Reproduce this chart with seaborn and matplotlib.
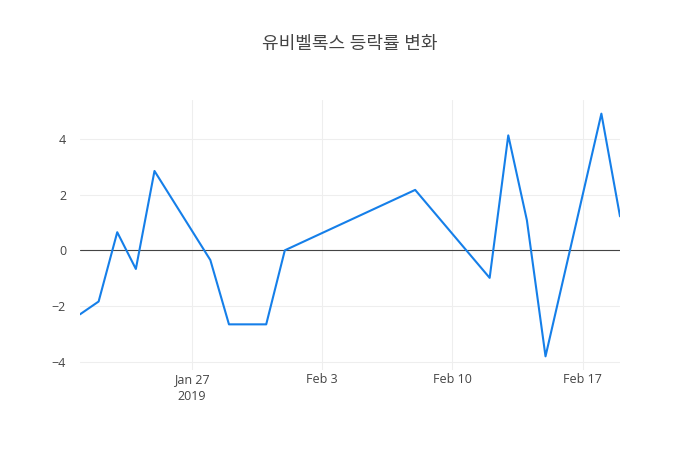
import matplotlib
matplotlib.use("Agg")
import matplotlib.pyplot as plt
import seaborn as sns
import pandas as pd

dates = ["2019-01-21", "2019-01-22", "2019-01-23", "2019-01-24", "2019-01-25",
         "2019-01-28", "2019-01-29", "2019-01-31", "2019-02-01", "2019-02-08",
         "2019-02-12", "2019-02-13", "2019-02-14", "2019-02-15", "2019-02-18",
         "2019-02-19"]
changes = [-2.30, -1.84, 0.65, -0.67, 2.85,
           -0.35, -2.66, -2.66, 0.0, 2.17,
           -0.99, 4.13, 1.08, -3.81, 4.91,
           1.22]
title = "유비벨록스 등락률 변화"

df = pd.DataFrame({"date": pd.to_datetime(dates), "change": changes})

sns.set_style("white")
plt.rcParams["font.family"] = ["Open Sans", "Noto Sans CJK KR", "DejaVu Sans"]
plt.rcParams["axes.unicode_minus"] = True

fig = plt.figure(figsize=(7, 4.5), dpi=100)
ax = fig.add_axes([80 / 700, 1 - 370 / 450, 540 / 700, 270 / 450])

sns.lineplot(data=df, x="date", y="change", ax=ax, color="#157fe9",
             linewidth=1.5, zorder=3)

ax.set_xlim(pd.Timestamp("2019-01-21"), pd.Timestamp("2019-02-19"))
ax.set_ylim(-4.30, 5.40)
ax.axhline(0, color="#444444", linewidth=0.8, zorder=2)

ticks = pd.to_datetime(["2019-01-27", "2019-02-03", "2019-02-10", "2019-02-17"])
ax.set_xticks(ticks)
ax.set_xticklabels(["Jan 27\n2019", "Feb 3", "Feb 10", "Feb 17"], linespacing=1.45)
ax.set_yticks([-4, -2, 0, 2, 4])
ax.set_yticklabels(["\u22124", "\u22122", "0", "2", "4"])

ax.grid(True, color="#eeeeee", linewidth=0.8, zorder=0)
for s in ax.spines.values():
    s.set_visible(False)
ax.tick_params(axis="both", length=0, labelsize=9, labelcolor="#444444")
ax.tick_params(axis="x", pad=2)
ax.tick_params(axis="y", pad=10)
ax.set_xlabel("")
ax.set_ylabel("")

fig.text(0.5, 1 - 44 / 450, title, ha="center", va="center",
         fontsize=13, color="#444444")

fig.savefig("out.png", dpi=100)
